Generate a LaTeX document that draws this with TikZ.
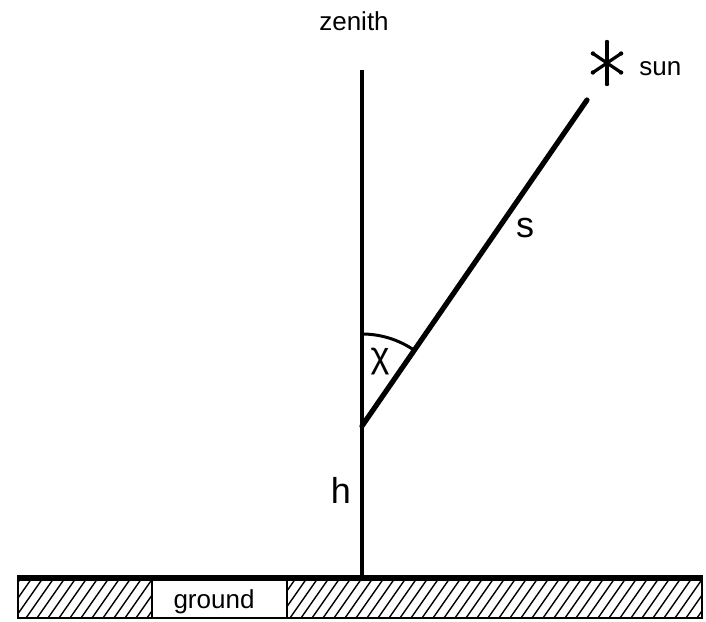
\documentclass[tikz,border=0pt]{standalone}
\usepackage{fontspec}
\setmainfont{Liberation Sans}
\begin{document}
\begin{tikzpicture}[x=0.5pt,y=-0.5pt,
  lbl/.style={inner sep=0pt, font=\fontsize{13}{15}\selectfont},
  biglbl/.style={inner sep=0pt, font=\fontsize{18}{20}\selectfont},
  ray/.style={line width=2.6pt, line cap=round},
  axisline/.style={line width=1.6pt},
  hatchline/.style={line width=0.7pt}]
\useasboundingbox (0,0) rectangle (706,621);
% coordinates
\coordinate (top) at (362,70);
\coordinate (vertex) at (362,426);
\coordinate (foot) at (362,578);
\coordinate (rayend) at (587,100);
\coordinate (sunc) at (607,63);
% ground strip
\begin{scope}
  \clip (18,578) rectangle (702,618);
  \foreach \x in {-40,-29,...,720} {
    \draw[hatchline] (\x,618) -- (\x+28,578);
  }
\end{scope}
\node[draw, line width=0.9pt, fill=white, minimum width=135*0.5pt, minimum height=40*0.5pt, inner sep=0pt] (groundbox) at (219.5,598) {};
\node[lbl, anchor=base] (groundlbl) at (214,608) {ground};
\draw[line width=1pt] (18,578) rectangle (702,618);
\draw[line width=2.6pt] (17,578) -- (703,578);
% zenith line and ray
\draw[axisline] (top) -- (foot);
\draw[ray] (vertex) -- (rayend);
% angle arc
\draw[line width=1.5pt] (362,334) arc[start angle=270, end angle=304.6, radius=92];
% labels
\node[lbl, anchor=base] (zenith) at (354,31) {zenith};
\node[lbl, anchor=base west] (sun) at (639,75) {sun};
\node[biglbl, anchor=base] (s) at (525,237) {s};
\node[biglbl, anchor=base] (h) at (341,503) {h};
\node[biglbl] (chi) at (380,362) {χ};
% sun star
\foreach \a/\r in {90/21,270/21,34/17,146/17,214/17,326/17} {
  \draw[line width=1.6pt, line cap=round] (sunc) -- ++(\a:\r);
  \fill (sunc) ++(\a:\r) circle[radius=2.2];
}
\end{tikzpicture}
\end{document}
